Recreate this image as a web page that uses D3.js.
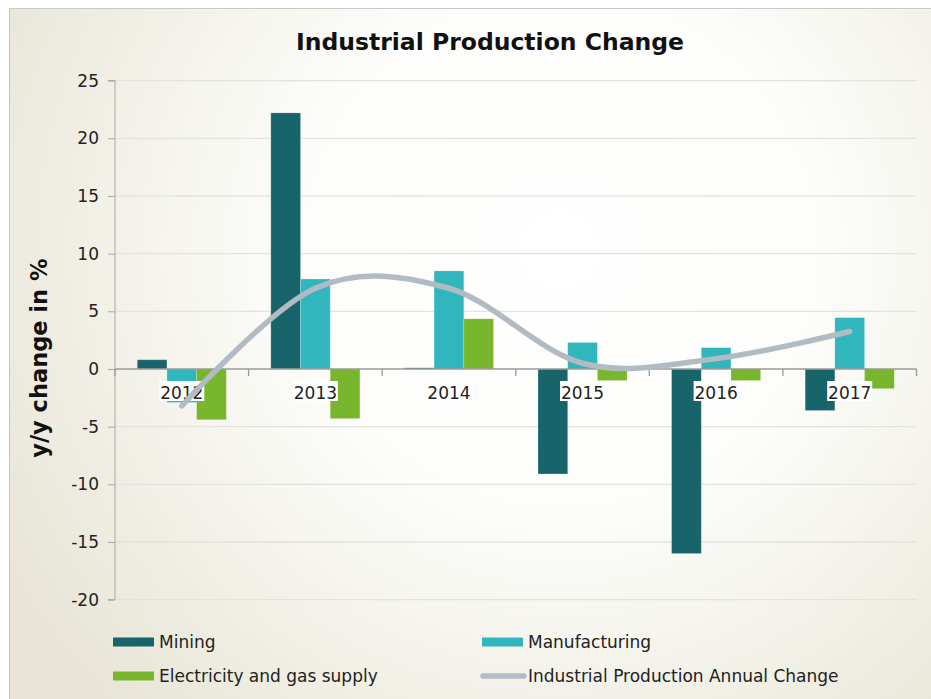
<!DOCTYPE html>
<html><head><meta charset="utf-8">
<script src="https://cdn.jsdelivr.net/npm/d3@7/dist/d3.min.js"></script>
<style>body{margin:0;background:#fff}svg{display:block}</style>
</head><body>
<svg id="chart" width="931" height="699"></svg>
<script>
const years = ["2012","2013","2014","2015","2016","2017"];
const mining = [0.8, 22.2, 0.1, -9.1, -16.0, -3.6];
const manufacturing = [-2.9, 7.8, 8.5, 2.3, 1.85, 4.45];
const electricity = [-4.4, -4.3, 4.35, -1.0, -1.0, -1.7];
const ipAnnual = [-3.2, 7.0, 7.0, 0.5, 0.9, 3.25];
const yTicks = [-20, -15, -10, -5, 0, 5, 10, 15, 20, 25];
const seriesNames = ["Mining", "Manufacturing", "Electricity and gas supply", "Industrial Production Annual Change"];
const colors = {Mining: "#17646b", Manufacturing: "#30b6bc", "Electricity and gas supply": "#78b62d", "Industrial Production Annual Change": "#b1bbc3"};

(function() {
const svg = d3.select("#chart");
const defs = svg.append("defs");
const grad = defs.append("radialGradient").attr("id","bg").attr("gradientUnits","userSpaceOnUse")
  .attr("cx",560).attr("cy",250).attr("r",640);
grad.append("stop").attr("offset","0").attr("stop-color","#ffffff");
grad.append("stop").attr("offset","0.4").attr("stop-color","#fdfdfb");
grad.append("stop").attr("offset","1").attr("stop-color","#e8e5d6");

svg.append("rect").attr("width",931).attr("height",699).attr("fill","#fff");
svg.append("rect").attr("x",9.5).attr("y",8.5).attr("width",940).attr("height",720)
  .attr("fill","url(#bg)").attr("stroke","#c8c8c8").attr("stroke-width",1);

const pLeft = 115, pRight = 916.5, pTop = 80.6, pBottom = 599.7;
const x = d3.scaleBand().domain(years).range([pLeft, pRight]).paddingInner(0).paddingOuter(0);
const y = d3.scaleLinear().domain([-20, 25]).range([pBottom, pTop]);

// gridlines
svg.append("g").selectAll("line").data(yTicks.filter(d => d !== 0)).join("line")
  .attr("x1", pLeft).attr("x2", pRight).attr("y1", d => y(d)).attr("y2", d => y(d))
  .attr("stroke", "#e2e2de").attr("stroke-width", 1.3);

// y axis
const yAxis = svg.append("g").attr("transform", `translate(${pLeft},0)`)
  .call(d3.axisLeft(y).tickValues(yTicks).tickSize(7).tickPadding(9).tickFormat(d3.format("d")));
yAxis.select(".domain").attr("stroke", "#a8a8a8").attr("d", `M-7,${pTop}H0V${pBottom}H-7`);
yAxis.selectAll(".tick line").attr("stroke", "#a8a8a8");
yAxis.selectAll("text").attr("font-family", "DejaVu Sans").attr("font-size", 17).attr("fill", "#222")
  .text(d => d < 0 ? "-" + Math.abs(d) : d);

// bars
const barData = [];
years.forEach((yr, i) => {
  [["Mining", mining], ["Manufacturing", manufacturing], ["Electricity and gas supply", electricity]].forEach(([n, arr]) => {
    barData.push({year: yr, name: n, value: arr[i]});
  });
});
const groupW = x.bandwidth() * 2 / 3;
const bw = groupW / 3;
svg.append("g").selectAll("rect").data(barData).join("rect")
  .attr("x", d => x(d.year) + (x.bandwidth() - groupW) / 2 + seriesNames.indexOf(d.name) * bw)
  .attr("width", bw)
  .attr("y", d => y(Math.max(0, d.value)))
  .attr("height", d => Math.abs(y(d.value) - y(0)))
  .attr("fill", d => colors[d.name])
  .attr("stroke", "rgba(255,255,255,0.25)").attr("stroke-width", 0.8);

// zero axis with category ticks
const xg = svg.append("g").attr("transform", `translate(0,${y(0)})`);
xg.append("line").attr("x1", pLeft).attr("x2", pRight).attr("stroke", "#9a9a9a").attr("stroke-width", 1.3);
const bounds = years.map(d => x(d)).concat([pRight]);
xg.selectAll(".ct").data(bounds).join("line").attr("class","ct")
  .attr("x1", d => d).attr("x2", d => d).attr("y1", 0).attr("y2", 7)
  .attr("stroke", "#9a9a9a").attr("stroke-width", 1.3);

// category labels with white boxes
const lab = svg.append("g").selectAll("g").data(years).join("g")
  .attr("transform", d => `translate(${x(d) + x.bandwidth()/2},${y(0) + 30})`);
lab.append("rect").attr("x", -22.5).attr("y", -18).attr("width", 45).attr("height", 20).attr("fill", "#fff");
lab.append("text").attr("text-anchor", "middle").attr("font-family", "DejaVu Sans").attr("font-size", 17)
  .attr("fill", "#222").text(d => d);

// line
const line = d3.line().x((d, i) => x(years[i]) + x.bandwidth()/2).y(d => y(d)).curve(d3.curveCardinal.tension(0));
svg.append("path").datum(ipAnnual).attr("d", line).attr("fill", "none")
  .attr("stroke", colors["Industrial Production Annual Change"]).attr("stroke-width", 5.5)
  .attr("stroke-linecap", "round").attr("stroke-linejoin", "round");

// title
svg.append("text").attr("x", 490).attr("y", 50).attr("text-anchor", "middle")
  .attr("font-family", "DejaVu Sans").attr("font-weight", "bold").attr("font-size", 23.5).attr("fill", "#111")
  .text("Industrial Production Change");

// y axis title
svg.append("text").attr("transform", `translate(47,${(pTop+pBottom)/2 + 18}) rotate(-90)`).attr("text-anchor", "middle")
  .attr("font-family", "DejaVu Sans").attr("font-weight", "bold").attr("font-size", 22.5).attr("fill", "#111")
  .text("y/y change in %");

// legend
const legendPos = [[113, 642], [482, 642], [113, 676], [482, 676]];
const lg = svg.append("g").selectAll("g").data(seriesNames).join("g")
  .attr("transform", (d, i) => `translate(${legendPos[i][0]},${legendPos[i][1]})`);
lg.each(function(d, i) {
  const g = d3.select(this);
  if (i < 3) {
    g.append("rect").attr("x", 0).attr("y", -4.5).attr("width", 41).attr("height", 9).attr("fill", colors[d]);
  } else {
    g.append("line").attr("x1", 1).attr("x2", 42).attr("y1", 0).attr("y2", 0)
      .attr("stroke", colors[d]).attr("stroke-width", 5.5).attr("stroke-linecap", "round");
  }
  g.append("text").attr("x", 46).attr("y", 6).attr("font-family", "DejaVu Sans").attr("font-size", 17)
    .attr("fill", "#222").text(d);
});
})();
</script>
</body></html>
